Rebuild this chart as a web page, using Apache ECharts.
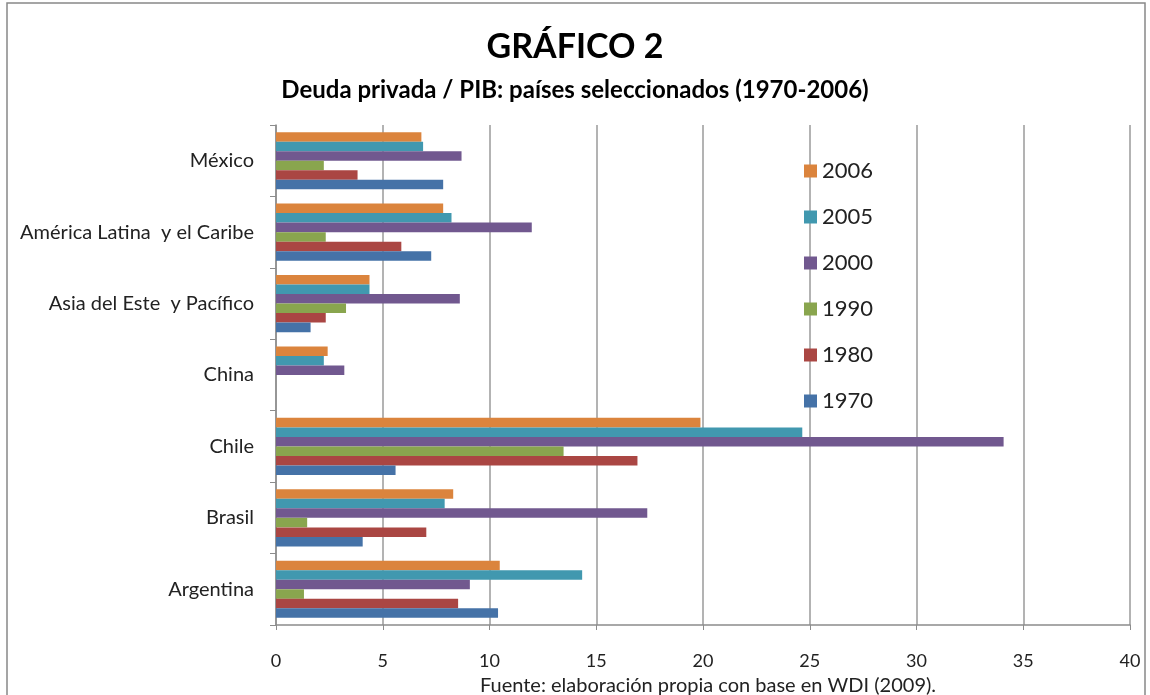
<!DOCTYPE html>
<html>
<head>
<meta charset="utf-8">
<script src="https://cdn.jsdelivr.net/npm/echarts@6/dist/echarts.min.js"></script>
<style>
  html, body { margin: 0; padding: 0; background: #fff; }
  #chart { width: 1150px; height: 695px; }
</style>
</head>
<body>
<div id="chart"></div>
<script>
// categorias (de abajo hacia arriba)
const paises = ['Argentina', 'Brasil', 'Chile', 'China', 'Asia del Este  y Pacífico', 'América Latina  y el Caribe', 'México']
// series de arriba hacia abajo dentro de cada grupo
const anios = ['2006', '2005', '2000', '1990', '1980', '1970']
const colores = ['#DB843D', '#4198AF', '#71588F', '#89A54E', '#AA4643', '#4572A7']

const v1970 = [10.40, 4.06, 5.60, 0, 1.62, 7.27, 7.83]
const v1980 = [8.53, 7.04, 16.93, 0, 2.33, 5.87, 3.82]
const v1990 = [1.31, 1.46, 13.47, 0, 3.28, 2.33, 2.24]
const v2000 = [9.08, 17.39, 34.08, 3.20, 8.61, 11.98, 8.69]
const v2005 = [14.34, 7.90, 24.65, 2.24, 4.38, 8.22, 6.89]
const v2006 = [10.48, 8.30, 19.88, 2.42, 4.38, 7.83, 6.81]
const valores = [v2006, v2005, v2000, v1990, v1980, v1970]

const fuente = 'Lato, "Open Sans", sans-serif'

const chart = echarts.init(document.getElementById('chart'))
const option = {
  backgroundColor: '#fff',
  animation: false,
  textStyle: { fontFamily: fuente },
  title: [
    {
      text: 'GRÁFICO 2',
      left: 'center',
      top: 25,
      textStyle: { fontSize: 34, fontWeight: 'bold', color: '#000', fontFamily: fuente }
    },
    {
      text: 'Deuda privada / PIB: países seleccionados (1970-2006)',
      left: 'center',
      top: 73,
      textStyle: { fontSize: 24, fontWeight: 'bold', color: '#000', fontFamily: fuente }
    },
    {
      text: 'Fuente: elaboración propia con base en WDI (2009).',
      left: 703,
      textAlign: 'center',
      top: 671,
      textStyle: { fontSize: 20, fontWeight: 'normal', color: '#222', fontFamily: fuente }
    }
  ],
  legend: {
    orient: 'vertical',
    left: 799,
    top: 155,
    data: anios,
    icon: 'rect',
    itemWidth: 13,
    itemHeight: 13,
    itemGap: 24,
    textStyle: { fontSize: 22, color: '#222', fontFamily: fuente, lineHeight: 22 }
  },
  grid: { left: 276, right: 20, top: 125, bottom: 70, containLabel: false },
  xAxis: {
    type: 'value',
    min: 0,
    max: 40,
    interval: 5,
    axisLine: { show: true, lineStyle: { color: '#8c8c8c', width: 1.5 } },
    axisTick: { show: true, length: 5, lineStyle: { color: '#8c8c8c' } },
    axisLabel: { fontSize: 18, color: '#222', margin: 27 },
    splitLine: { show: true, lineStyle: { color: '#9a9a9a', width: 1.5 } }
  },
  yAxis: {
    type: 'category',
    data: paises,
    axisLine: { show: true, lineStyle: { color: '#8c8c8c', width: 1.5 } },
    axisTick: { show: true, length: 6, lineStyle: { color: '#8c8c8c' } },
    axisLabel: { fontSize: 20, color: '#222', margin: 22 }
  },
  series: anios.map((a, i) => ({
    name: a,
    type: 'bar',
    data: valores[i],
    barGap: '0%',
    barCategoryGap: '20%',
    itemStyle: { color: colores[i] }
  })),
  graphic: [
    {
      type: 'rect',
      shape: { x: 7, y: 3, width: 1138, height: 700 },
      style: { fill: 'none', stroke: '#888', lineWidth: 1.5 },
      silent: true
    }
  ]
}
chart.setOption(option)
</script>
</body>
</html>
